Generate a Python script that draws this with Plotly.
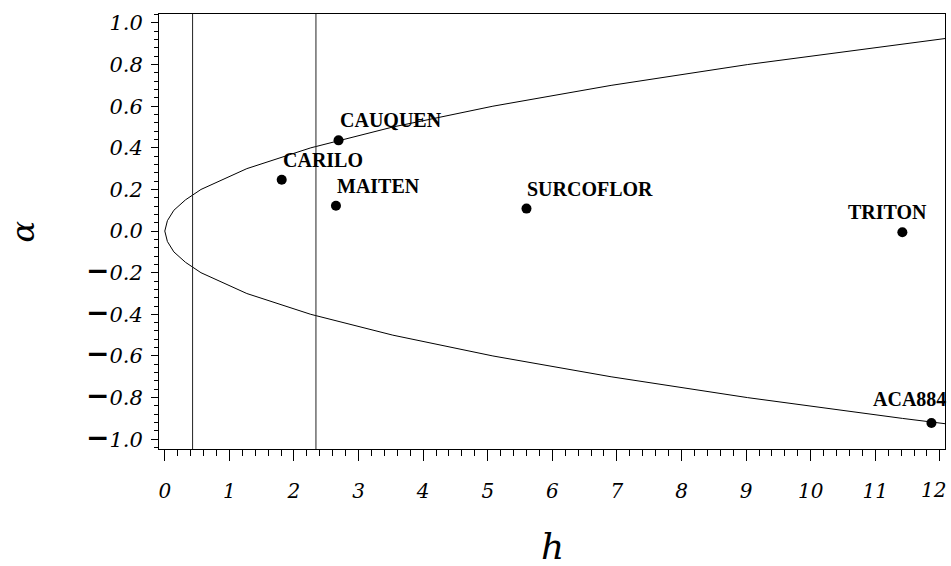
import plotly.graph_objects as go

# Cultivar positions in the (h, alpha) plane
cultivars = ["CARILO", "CAUQUEN", "MAITEN", "SURCOFLOR", "TRITON", "ACA884"]
h_vals = [1.81, 2.69, 2.65, 5.60, 11.42, 11.87]
alpha_vals = [0.247, 0.436, 0.122, 0.108, -0.006, -0.922]

# Boundary curve (h as a function of alpha)
boundary_alpha = [-0.93, -0.9, -0.8, -0.7, -0.6, -0.5, -0.4, -0.3, -0.2, -0.15, -0.1, -0.05,
                  0.0, 0.05, 0.1, 0.15, 0.2, 0.3, 0.4, 0.5, 0.6, 0.7, 0.8, 0.9, 0.93]
boundary_h = [12.2, 11.42, 9.02, 6.91, 5.08, 3.53, 2.26, 1.27, 0.56, 0.32, 0.14, 0.04,
              0.0, 0.04, 0.14, 0.32, 0.56, 1.27, 2.26, 3.53, 5.08, 6.91, 9.02, 11.42, 12.2]

# Reference values of h drawn as vertical lines
h_limits = [0.43, 2.34]

# Axis ticks
x_ticks = [0, 1, 2, 3, 4, 5, 6, 7, 8, 9, 10, 11, 12]
y_ticks = [-1.0, -0.8, -0.6, -0.4, -0.2, 0.0, 0.2, 0.4, 0.6, 0.8, 1.0]

SERIF = "DejaVu Serif"
LABEL_FONT = "Liberation Serif"
XTICK_FONT = dict(family=SERIF, size=20, color="black", style="italic")


def y_label(v):
    if v < 0:
        return ("<span style='font-family:DejaVu Sans;font-weight:bold;font-size:28px'>\u2212</span>"
                f"{abs(v):.1f}")
    return f"{v:.1f}"


y_ticktext = [y_label(v) for v in y_ticks]
# The last x label sits against the right edge, so it is drawn right-aligned below
x_ticktext = [str(v) for v in x_ticks[:-1]] + [""]

# Label placement: (xanchor, xshift, yshift)
label_place = {
    "TRITON": ("center", -15, 20),
    "ACA884": ("center", -22, 24),
}
default_place = ("left", -1, 20)

fig = go.Figure()

fig.add_trace(go.Scatter(
    x=boundary_h, y=boundary_alpha, mode="lines",
    line=dict(color="black", width=1), hoverinfo="skip", showlegend=False,
))

fig.add_trace(go.Scatter(
    x=h_vals, y=alpha_vals, mode="markers",
    marker=dict(color="black", size=10, symbol="circle"),
    text=cultivars, showlegend=False,
))

for h in h_limits:
    fig.add_shape(type="line", xref="x", yref="paper", x0=h, x1=h, y0=0, y1=1,
                  line=dict(color="#222222", width=1))

for name, hx, ay in zip(cultivars, h_vals, alpha_vals):
    anchor, dx, dy = label_place.get(name, default_place)
    fig.add_annotation(
        x=hx, y=ay, xref="x", yref="y", text=name, showarrow=False,
        xanchor=anchor, yanchor="middle", xshift=dx, yshift=dy,
        font=dict(family=LABEL_FONT, size=20, color="black", weight="bold"),
    )

# Right-most x tick label
fig.add_annotation(x=x_ticks[-1], y=0, xref="x", yref="paper", text=str(x_ticks[-1]),
                   showarrow=False, xanchor="right", yanchor="middle",
                   xshift=8, yshift=-41, font=XTICK_FONT)

# Axis titles
fig.add_annotation(x=0.5, y=-0.224, xref="paper", yref="paper", text="h",
                   showarrow=False, xanchor="center", yanchor="middle",
                   font=dict(family=SERIF, size=36, color="black", style="italic"))
fig.add_annotation(x=-0.1743, y=0.5, xref="paper", yref="paper", text="\u03b1",
                   showarrow=False, xanchor="center", yanchor="middle", textangle=-90,
                   font=dict(family=SERIF, size=32, color="black", style="italic"))

fig.update_layout(
    width=951, height=566,
    margin=dict(l=159, r=6, t=14, b=117, autoexpand=False),
    plot_bgcolor="white", paper_bgcolor="white",
    showlegend=False,
)

fig.update_xaxes(
    range=[-0.09, 12.08], tickmode="array", tickvals=x_ticks, ticktext=x_ticktext,
    automargin=False,
    ticks="outside", ticklen=11, tickwidth=1, tickcolor="black",
    showline=True, linecolor="black", linewidth=1, mirror=True,
    showgrid=False, zeroline=False, ticklabelstandoff=13,
    tickfont=XTICK_FONT,
    minor=dict(dtick=0.2, tick0=0, ticks="outside", ticklen=6, tickcolor="black", showgrid=False),
)

fig.update_yaxes(
    range=[-1.047, 1.043], tickmode="array", tickvals=y_ticks, ticktext=y_ticktext,
    automargin=False,
    ticks="outside", ticklen=7, tickwidth=1, tickcolor="black",
    showline=True, linecolor="black", linewidth=1, mirror=True,
    showgrid=False, zeroline=False, ticklabelstandoff=4,
    tickfont=dict(family=SERIF, size=21, color="black", style="italic"),
    minor=dict(dtick=0.04, tick0=0, ticks="outside", ticklen=4, tickcolor="black", showgrid=False),
)

fig.write_html("out.html")
